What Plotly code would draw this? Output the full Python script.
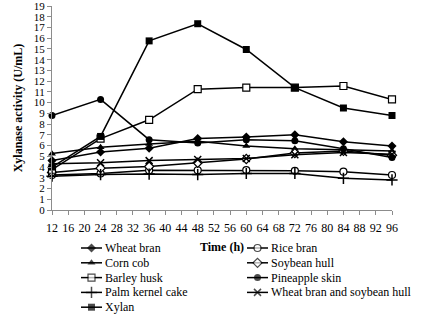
import plotly.graph_objects as go

# ---- data ----
time_h = [12, 24, 36, 48, 60, 72, 84, 96]
wheat_bran = [4.6, 5.4, 5.75, 6.65, 6.8, 7.0, 6.35, 5.95]
rice_bran = [3.25, 3.4, 3.7, 3.7, 3.72, 3.65, 3.57, 3.26]
corn_cob = [5.25, 5.85, 6.15, 6.4, 5.95, 5.7, 5.6, 5.5]
soybean_hull = [3.5, 3.9, 4.05, 4.4, 4.75, 5.3, 5.5, 5.1]
barley_husk = [3.75, 6.65, 8.4, 11.25, 11.4, 11.4, 11.55, 10.3]
pineapple_skin = [8.8, 10.3, 6.55, 6.25, 6.55, 6.45, 5.7, 4.9]
palm_kernel_cake = [3.15, 3.3, 3.35, 3.3, 3.4, 3.4, 2.95, 2.8]
wheat_soy = [4.3, 4.4, 4.6, 4.7, 4.8, 5.15, 5.35, 5.2]
xylan = [4.0, 6.85, 15.75, 17.35, 14.95, 11.4, 9.5, 8.8]

series_names = ["Wheat bran", "Rice bran", "Corn cob", "Soybean hull", "Barley husk",
                "Pineapple skin", "Palm kernel cake", "Wheat bran and soybean hull", "Xylan"]
series_values = [wheat_bran, rice_bran, corn_cob, soybean_hull, barley_husk,
                 pineapple_skin, palm_kernel_cake, wheat_soy, xylan]
x_ticks = list(range(12, 97, 4))

# ---- styles ----
FONT = "Liberation Serif"
W, H = 424, 322
styles = {
    "Wheat bran": dict(symbol="diamond", size=7, color="black", lw=0),
    "Rice bran": dict(symbol="circle", size=7, color="white", lw=1.2),
    "Corn cob": dict(symbol="triangle-up", size=7, color="black", lw=0),
    "Soybean hull": dict(symbol="diamond", size=7, color="white", lw=1.2),
    "Barley husk": dict(symbol="square", size=7, color="white", lw=1.2),
    "Pineapple skin": dict(symbol="circle", size=7, color="black", lw=0),
    "Palm kernel cake": dict(symbol="cross-thin-open", size=8, color="black", lw=1.5),
    "Wheat bran and soybean hull": dict(symbol="x-thin-open", size=7, color="black", lw=1.5),
    "Xylan": dict(symbol="square", size=7, color="black", lw=0),
}

def marker_for(name, size=None):
    s = styles[name]
    return dict(symbol=s["symbol"], size=s["size"] if size is None else size,
                color=s["color"], line=dict(color="black", width=s["lw"]))

fig = go.Figure()
for name, vals in zip(series_names, series_values):
    fig.add_trace(go.Scatter(
        x=time_h, y=vals, name=name, mode="lines+markers",
        line=dict(color="black", width=1.5), marker=marker_for(name),
        cliponaxis=False, showlegend=False, xaxis="x", yaxis="y"))

# ---- legend (drawn in a pixel-coordinate overlay axis) ----
col_x = [81, 247]
row_y0, row_dy, sample_w = 248, 14.8, 21
annotations = []
for i, name in enumerate(series_names):
    col, row = i % 2, i // 2
    x0 = col_x[col]
    y = row_y0 + row * row_dy
    sz = styles[name]["size"]
    fig.add_trace(go.Scatter(
        x=[x0, x0 + sample_w / 2, x0 + sample_w], y=[y, y, y], mode="lines+markers",
        line=dict(color="black", width=1.5),
        marker=dict(symbol=styles[name]["symbol"], size=[0, sz, 0], color=styles[name]["color"],
                    line=dict(color="black", width=styles[name]["lw"])),
        cliponaxis=False, showlegend=False, hoverinfo="skip", xaxis="x2", yaxis="y2"))
    annotations.append(dict(x=x0 + sample_w + 1, y=y, xref="x2", yref="y2", text=name,
                            showarrow=False, xanchor="left", yanchor="middle",
                            font=dict(family=FONT, size=12, color="black")))

plot_l, plot_r, plot_t, plot_b = 52, 392, 6, 210
fig.update_layout(
    template="none",
    width=W, height=H,
    margin=dict(l=0, r=0, t=0, b=0, pad=0),
    paper_bgcolor="white", plot_bgcolor="rgba(0,0,0,0)",
    font=dict(family=FONT, size=12, color="black"),
    xaxis=dict(domain=[plot_l / W, plot_r / W], range=[12, 96], tickmode="array",
               tickvals=x_ticks, ticktext=[str(t) for t in x_ticks], automargin=False,
               showgrid=False, zeroline=False, showline=True, linecolor="#8c8c8c", linewidth=1,
               ticks="outside", ticklen=4, tickcolor="#8c8c8c", ticklabelstandoff=3,
               ticklabeloverflow="allow",
               tickfont=dict(family=FONT, size=12, color="black"),
               title=dict(text="<b>Time (h)</b>", standoff=8,
                          font=dict(family=FONT, size=12, color="black")),
               anchor="y", fixedrange=True),
    yaxis=dict(domain=[1 - plot_b / H, 1 - plot_t / H], range=[0, 19], dtick=1,
               automargin=False, ticklabeloverflow="allow",
               showgrid=False, zeroline=False, showline=True, linecolor="#8c8c8c", linewidth=1,
               ticks="outside", ticklen=4, tickcolor="#8c8c8c",
               tickfont=dict(family=FONT, size=11, color="black"),
               title=dict(text="<b>Xylanase activity (U/mL)</b>", standoff=8,
                          font=dict(family=FONT, size=12, color="black")),
               anchor="x", fixedrange=True),
    xaxis2=dict(domain=[0, 1], range=[0, W], visible=False, anchor="y2", fixedrange=True,
                automargin=False),
    yaxis2=dict(domain=[0, 1], range=[H, 0], visible=False, anchor="x2", fixedrange=True,
                automargin=False),
    annotations=annotations,
    showlegend=False,
)

fig.write_html("out.html", config={"displayModeBar": False},
               post_script="document.body.style.margin='0';")
